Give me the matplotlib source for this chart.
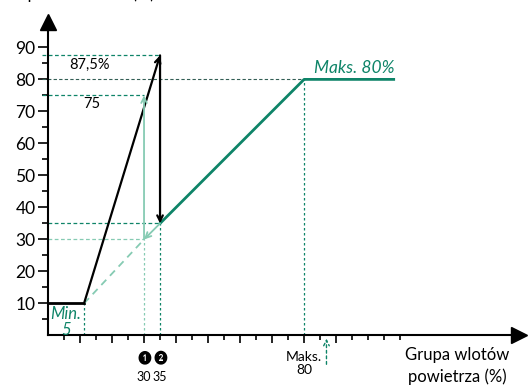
import numpy as np
import matplotlib.pyplot as plt

plt.rcParams['font.family'] = ['Lato', 'DejaVu Sans']

# values
x_min, y_min = 11.25, 10          # Min. point
x_1, x_2 = 30, 35                 # markers 1 and 2
y_peak = 87.5                     # black peak
y_75 = 75
y_max, x_max = 80, 80             # Maks. 80%
x_end = 108                       # end of flat green line
x_arrow = 87                      # small arrow under the axis

teal = '#0e8468'
light = '#86cbb3'

fig = plt.figure(figsize=(5.31, 3.87), dpi=100)
ax = fig.add_axes([0, 0, 1, 1])
ax.set_xlim(-15, 150.9)
ax.set_ylim(-16.1, 104.8)

# axes through origin
for s in ['top', 'right']:
    ax.spines[s].set_visible(False)
ax.spines['left'].set_position(('data', 0))
ax.spines['bottom'].set_position(('data', 0))
ax.spines['left'].set_bounds(0, 97)
ax.spines['bottom'].set_bounds(0, 146)
ax.spines['left'].set_linewidth(1.5)
ax.spines['bottom'].set_linewidth(1.5)
ax.plot(0, 98, marker='^', color='k', ms=11, clip_on=False)
ax.plot(147, 0, marker='>', color='k', ms=11, clip_on=False)

ax.set_yticks(np.arange(10, 91, 10))
ax.set_yticks(np.arange(5, 90, 10), minor=True)
ax.set_xticks(np.arange(10, 91, 10))
ax.set_xticks(list(np.arange(5, 90, 10)) + [95, 100, 105, 110], minor=True)
ax.set_xticklabels([])
ax.tick_params(axis='y', which='major', length=7, width=1.2, labelsize=12.5, pad=2)
ax.tick_params(axis='y', which='minor', length=4, width=1.2)
ax.tick_params(axis='x', which='major', length=6, width=1.2)
ax.tick_params(axis='x', which='minor', length=3.5, width=1.2)

# helper lines (dashed horizontals, dotted verticals)
ax.plot([-2, x_2], [y_peak, y_peak], ls=(0, (3, 2)), color=teal, lw=0.9)
ax.plot([-2, x_max], [y_max, y_max], ls=(0, (3, 2)), color='#335e55', lw=0.8)
ax.plot([-2, x_1], [y_75, y_75], ls=(0, (3, 2)), color=teal, lw=0.9)
ax.plot([0, x_2], [35, 35], ls=(0, (3, 2)), color=teal, lw=0.9)
ax.plot([0, x_1], [30, 30], ls=(0, (3, 2)), color=light, lw=0.9)
ax.plot([x_min, x_min], [0, y_min], ls=(0, (2, 2)), color=teal, lw=0.9)
ax.plot([x_1, x_1], [0, 30], ls=(0, (2, 2)), color=light, lw=0.9)
ax.plot([x_2, x_2], [0, 35], ls=(0, (2, 2)), color=teal, lw=0.9)
ax.plot([x_max, x_max], [0, y_max], ls=(0, (2, 2)), color=teal, lw=0.9)

# black curve
ax.plot([0, x_min], [y_min, y_min], color='k', lw=2)
ax.annotate('', xy=(x_2, y_peak), xytext=(x_min, y_min),
            arrowprops=dict(arrowstyle='->', color='k', lw=1.6, shrinkA=0, shrinkB=0))
ax.annotate('', xy=(x_2, 35), xytext=(x_2, y_peak),
            arrowprops=dict(arrowstyle='->', color='k', lw=1.6, shrinkA=0, shrinkB=0))

# green curve
ax.plot([x_2, x_max, x_end], [35, y_max, y_max], color=teal, lw=2)
ax.plot([x_min, x_1], [y_min, 30], ls=(0, (4, 3)), color=light, lw=1.3)
ax.annotate('', xy=(x_1, 30), xytext=(x_2, 35),
            arrowprops=dict(arrowstyle='->', color=light, lw=1.3, shrinkA=0, shrinkB=0))
ax.annotate('', xy=(x_1, y_75), xytext=(x_1, 30),
            arrowprops=dict(arrowstyle='->', color=light, lw=1.3, shrinkA=0, shrinkB=0))
ax.annotate('', xy=(x_arrow, -1), xytext=(x_arrow, -9),
            arrowprops=dict(arrowstyle='->', color=teal, lw=1, ls=(0, (2, 2)),
                            shrinkA=0, shrinkB=0), annotation_clip=False)

# texts
ax.text(13, 84.6, '87,5%', fontsize=10.5, ha='center', va='center')
ax.text(13.75, 72.3, '75', fontsize=10.5, ha='center', va='center')
ax.text(83, 83.5, 'Maks. 80%', fontsize=12.5, style='italic', color=teal, ha='left', va='center')
ax.text(5.6, 4.3, 'Min.\n5', fontsize=12, style='italic', color=teal,
        ha='center', va='center', linespacing=1.0)
ax.text(x_1, -6.8, '\u2776', fontsize=9, ha='center', va='center')
ax.text(x_2, -6.8, '\u2777', fontsize=9, ha='center', va='center')
ax.text(x_1, -12.9, '30', fontsize=9, ha='center', va='center')
ax.text(x_2, -12.9, '35', fontsize=9, ha='center', va='center')
ax.text(x_max, -8.8, 'Maks.\n80', fontsize=10, ha='center', va='center', linespacing=1.1)
ax.text(127.8, -9.5, 'Grupa wlotów\npowietrza (%)', fontsize=12, ha='center', va='center',
        linespacing=1.45)
ax.text(-15, 106.8, 'Grupa nawiewów (%)', fontsize=12, ha='left', va='center')

fig.savefig('out.png', dpi=100)
